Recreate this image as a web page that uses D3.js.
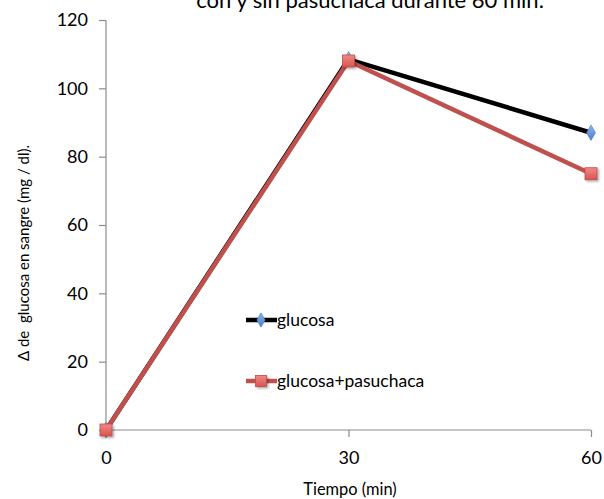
<!DOCTYPE html>
<html>
<head>
<meta charset="utf-8">
<script src="https://cdn.jsdelivr.net/npm/d3@7"></script>
<style>
  html, body { margin: 0; padding: 0; background: #fff; }
  svg text { font-family: Lato, "Open Sans", sans-serif; fill: #000; }
</style>
</head>
<body>
<svg id="chart" width="604" height="499"></svg>
<script>
// Blood glucose change over time, with and without pasuchaca
const times = [0, 30, 60];
const glucosa = [0, 108.5, 87];
const glucosaPasuchaca = [0, 108, 75];
const yTicks = [0, 20, 40, 60, 80, 100, 120];
const xTicks = [0, 30, 60];
const seriesNames = ["glucosa", "glucosa+pasuchaca"];
const titleText = "con y sin pasuchaca durante 60 min.";
const xTitle = "Tiempo (min)";
const yTitle = "\u0394 de  glucosa en sangre (mg / dl).";

const svg = d3.select("#chart");

const x = d3.scaleLinear().domain([0, 60]).range([106, 591]);
const y = d3.scaleLinear().domain([0, 120]).range([430, 20]);

// axes
const axisColor = "#8c8c8c";
const yAxis = svg.append("g").attr("transform", `translate(${x(0)},0)`)
  .call(d3.axisLeft(y).tickValues(yTicks).tickSize(7).tickPadding(11));
const xAxis = svg.append("g").attr("transform", `translate(0,${y(0)})`)
  .call(d3.axisBottom(x).tickValues(xTicks).tickSize(7).tickPadding(14));
[yAxis, xAxis].forEach(g => {
  g.select(".domain").attr("stroke", axisColor).attr("stroke-width", 1.2);
  g.selectAll(".tick line").attr("stroke", axisColor).attr("stroke-width", 1.2);
  g.selectAll(".tick text").style("font-size", "18px").attr("fill", "#000");
});
xAxis.select(".domain").attr("d", `M${x(0)},0H${x(60)}`);
yAxis.select(".domain").attr("d", `M0,${y(0)}V${y(120)}`);

// titles
svg.append("text").attr("x", 370).attr("y", 8).attr("text-anchor", "middle")
  .style("font-size", "22px").text(titleText);
svg.append("text").attr("x", 350).attr("y", 495).attr("text-anchor", "middle")
  .style("font-size", "16.4px").text(xTitle);
svg.append("text").attr("transform", "translate(29,253) rotate(-90)")
  .attr("text-anchor", "middle").style("font-size", "15px").style("white-space", "pre")
  .text(yTitle);

// series
const line = d3.line().x(d => x(d[0])).y(d => y(d[1]));
const ptsG = times.map((t, i) => [t, glucosa[i]]);
const ptsP = times.map((t, i) => [t, glucosaPasuchaca[i]]);

const defs = svg.append("defs");
const gradR = defs.append("linearGradient").attr("id", "sqFill").attr("x1", 0).attr("y1", 0).attr("x2", 0).attr("y2", 1);
gradR.append("stop").attr("offset", "0%").attr("stop-color", "#f08a87");
gradR.append("stop").attr("offset", "100%").attr("stop-color", "#d9534f");
const gradB = defs.append("linearGradient").attr("id", "dmFill").attr("x1", 0).attr("y1", 0).attr("x2", 0).attr("y2", 1);
gradB.append("stop").attr("offset", "0%").attr("stop-color", "#8fb4ec");
gradB.append("stop").attr("offset", "100%").attr("stop-color", "#4a7fd0");
const shadow = defs.append("filter").attr("id", "shadow").attr("x", "-50%").attr("y", "-50%").attr("width", "200%").attr("height", "200%");
shadow.append("feDropShadow").attr("dx", 1.5).attr("dy", 1.5).attr("stdDeviation", 1.2).attr("flood-color", "#000").attr("flood-opacity", 0.35);

svg.append("path").datum(ptsG).attr("d", line)
  .attr("fill", "none").attr("stroke", "#000").attr("stroke-width", 4.5).attr("stroke-linejoin", "round");
svg.selectAll(".dm").data(ptsG).join("path").attr("class", "dm")
  .attr("d", d3.symbol(d3.symbolDiamond, 70))
  .attr("transform", d => `translate(${x(d[0])},${y(d[1])})`)
  .attr("fill", "url(#dmFill)").attr("stroke", "#4a7ebb").attr("stroke-width", 0.6);

svg.append("path").datum(ptsP).attr("d", line)
  .attr("fill", "none").attr("stroke", "#c0504d").attr("stroke-width", 4.5).attr("stroke-linejoin", "round");
svg.selectAll(".sq").data(ptsP).join("rect").attr("class", "sq")
  .attr("x", d => x(d[0]) - 6).attr("y", d => y(d[1]) - 6)
  .attr("width", 12).attr("height", 12)
  .attr("fill", "url(#sqFill)").attr("stroke", "#be4b48").attr("stroke-width", 0.8)
  .attr("filter", "url(#shadow)");

// legend
const legend = [
  { name: seriesNames[0], y: 320, color: "#000", marker: "diamond" },
  { name: seriesNames[1], y: 381, color: "#c0504d", marker: "square" }
];
legend.forEach(l => {
  svg.append("line").attr("x1", 246).attr("x2", 277).attr("y1", l.y).attr("y2", l.y)
    .attr("stroke", l.color).attr("stroke-width", 4.5);
  if (l.marker === "diamond") {
    svg.append("path").attr("d", d3.symbol(d3.symbolDiamond, 60))
      .attr("transform", `translate(261,${l.y})`)
      .attr("fill", "url(#dmFill)").attr("stroke", "#4a7ebb").attr("stroke-width", 0.6);
  } else {
    svg.append("rect").attr("x", 255.5).attr("y", l.y - 5.5).attr("width", 11).attr("height", 11)
      .attr("fill", "url(#sqFill)").attr("stroke", "#be4b48").attr("stroke-width", 0.8)
      .attr("filter", "url(#shadow)");
  }
  svg.append("text").attr("x", 277).attr("y", l.y + 6).style("font-size", "17.5px").text(l.name);
});
</script>
</body>
</html>
